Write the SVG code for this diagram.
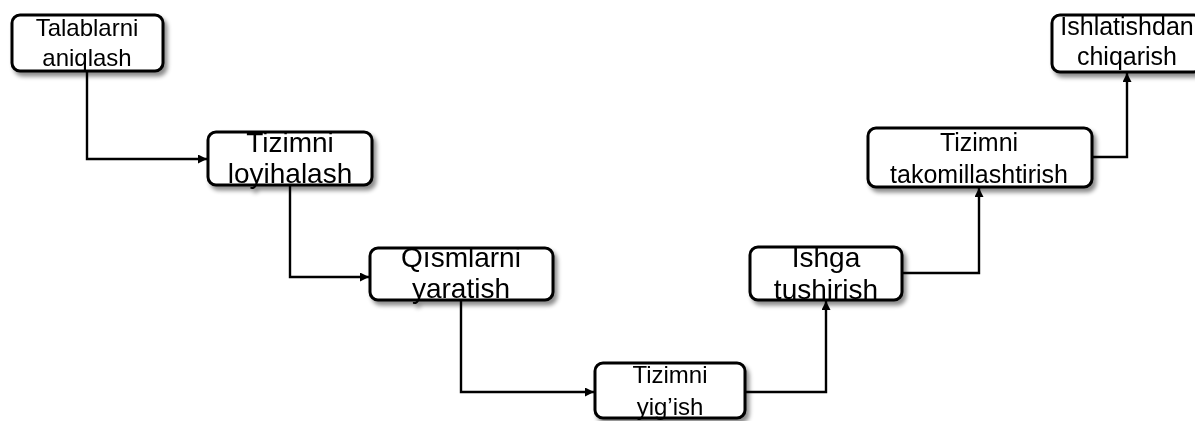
<svg xmlns="http://www.w3.org/2000/svg" width="1195" height="421" viewBox="0 0 1195 421">
<defs>
<filter id="sh" x="-10%" y="-20%" width="130%" height="160%">
<feDropShadow dx="3" dy="4" stdDeviation="2.2" flood-color="#000" flood-opacity="0.45"/>
</filter>
<marker id="ah" viewBox="0 0 10 10" refX="10" refY="5" markerWidth="9" markerHeight="9" markerUnits="userSpaceOnUse" orient="auto">
<path d="M0,0 L10,5 L0,10 Z" fill="#000"/>
</marker>
</defs>
<style>
.box{fill:#fff;stroke:#000;stroke-width:3}
.t{font-family:"Liberation Sans",Arial,sans-serif;fill:#000;text-anchor:middle}
.c{fill:none;stroke:#000;stroke-width:2.4;marker-end:url(#ah)}
</style>
<rect width="1195" height="421" fill="#fff"/>
<g id="connectors">
<path class="c" d="M87,72 V159 H207"/>
<path class="c" d="M290,186 V277 H369"/>
<path class="c" d="M461,301 V392 H594"/>
<path class="c" d="M746,392 H826 V301"/>
<path class="c" d="M903,273 H979 V188"/>
<path class="c" d="M1093,157 H1127 V73"/>
</g>
<g id="n1" filter="url(#sh)">
<rect class="box" x="12" y="15" width="151" height="56" rx="8"/>
<text class="t" x="87" y="36" font-size="24">Talablarni</text>
<text class="t" x="87" y="66" font-size="24">aniqlash</text>
</g>
<g id="n2" filter="url(#sh)">
<rect class="box" x="208" y="132" width="164" height="53" rx="8"/>
<text class="t" x="290" y="152" font-size="28">Tizimni</text>
<text class="t" x="290" y="183" font-size="28">loyihalash</text>
</g>
<g id="n3" filter="url(#sh)">
<rect class="box" x="370" y="248" width="183" height="52" rx="8"/>
<text class="t" x="461" y="267" font-size="28">Qısmlarni</text>
<text class="t" x="461" y="298" font-size="28">yaratish</text>
</g>
<g id="n4" filter="url(#sh)">
<rect class="box" x="595" y="363" width="150" height="55" rx="8"/>
<text class="t" x="670" y="383" font-size="24">Tizimni</text>
<text class="t" x="670" y="415" font-size="24">yig’ish</text>
</g>
<g id="n5" filter="url(#sh)">
<rect class="box" x="750" y="247" width="152" height="53" rx="8"/>
<text class="t" x="826" y="267" font-size="28">Ishga</text>
<text class="t" x="826" y="299" font-size="28">tushirish</text>
</g>
<g id="n6" filter="url(#sh)">
<rect class="box" x="868" y="128" width="224" height="59" rx="8"/>
<text class="t" x="979" y="151" font-size="25">Tizimni</text>
<text class="t" x="979" y="183" font-size="25">takomillashtirish</text>
</g>
<g id="n7" filter="url(#sh)">
<rect class="box" x="1052" y="15" width="150" height="57" rx="8"/>
<text class="t" x="1127" y="35" font-size="25">Ishlatishdan</text>
<text class="t" x="1127" y="65" font-size="25">chiqarish</text>
</g>
</svg>
